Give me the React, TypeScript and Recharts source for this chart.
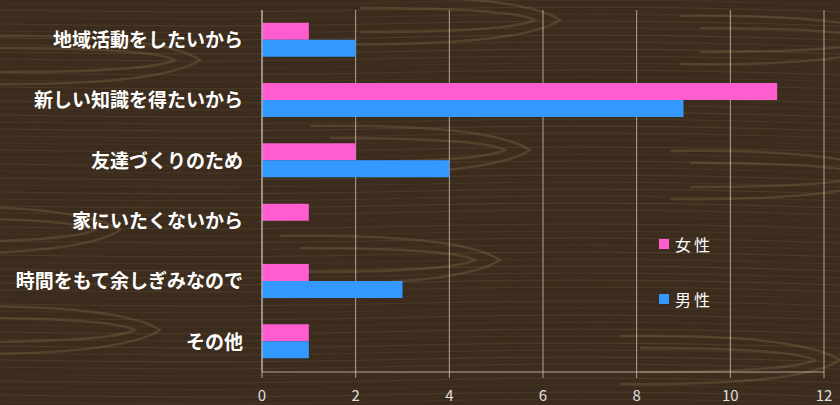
import React from 'react';
import { BarChart, Bar, XAxis, YAxis, CartesianGrid } from 'recharts';

const categories = [
  '地域活動をしたいから',
  '新しい知識を得たいから',
  '友達づくりのため',
  '家にいたくないから',
  '時間をもて余しぎみなので',
  'その他',
];
const femaleValues = [1, 11, 2, 1, 1, 1];
const maleValues = [2, 9, 4, 0, 3, 1];
const xTicks = [0, 2, 4, 6, 8, 10, 12];

const seriesNames = { female: '女性', male: '男性' };
const colors = { female: '#ff5ccf', male: '#3399ff' };

const data = categories.map((name, i) => ({
  name,
  female: femaleValues[i],
  male: maleValues[i],
}));

const FONT = '"Noto Sans CJK JP", "Noto Sans", sans-serif';
const gridColor = 'rgba(215,205,190,0.75)';

// wood-grain backdrop, purely decorative
const WoodBackground: React.FC = () => {
  const streaks = [];
  for (let y = 3; y < 405; y += 7) {
    const a = 0.08 + ((y * 37) % 11) / 100;
    streaks.push(
      <path
        key={y}
        d={`M0 ${y} Q210 ${y + 4} 420 ${y - 1} T840 ${y + 2}`}
        stroke={`rgba(170,140,100,${a})`}
        strokeWidth={1.2}
        fill="none"
      />
    );
  }
  const curls = [
    [0, 60], [-80, 230], [-40, 330], [360, 20], [330, 150], [300, 260], [700, 40], [690, 175], [640, 360],
  ];
  return (
    <svg width={840} height={405} style={{ position: 'absolute', left: 0, top: 0 }}>
      <rect width={840} height={405} fill="#3b2c1d" />
      {streaks}
      {curls.map(([cx, cy], i) => (
        <g key={i} fill="none" stroke="rgba(160,130,90,0.25)" strokeWidth={2.5}>
          <path d={`M${cx} ${cy - 12} Q${cx + 150} ${cy - 12} ${cx + 175} ${cy} Q${cx + 150} ${cy + 12} ${cx} ${cy + 12}`} />
          <path d={`M${cx - 20} ${cy - 24} Q${cx + 160} ${cy - 26} ${cx + 200} ${cy} Q${cx + 160} ${cy + 26} ${cx - 20} ${cy + 24}`} />
        </g>
      ))}
    </svg>
  );
};

const LegendBox: React.FC = () => (
  <div
    style={{
      position: 'absolute',
      left: 659,
      top: 233,
      fontFamily: FONT,
      fontSize: 16,
      color: '#ffffff',
      letterSpacing: 3,
    }}
  >
    {(['female', 'male'] as const).map((k, i) => (
      <div key={k} style={{ display: 'flex', alignItems: 'center', height: 22, marginTop: i === 0 ? 0 : 33 }}>
        <span style={{ width: 10, height: 10, background: colors[k], display: 'inline-block', marginRight: 6 }} />
        <span>{seriesNames[k]}</span>
      </div>
    ))}
  </div>
);

export default function App() {
  return (
    <div style={{ position: 'absolute', left: 0, top: 0, width: 840, height: 405, overflow: 'hidden' }}>
      <WoodBackground />
      <div style={{ position: 'absolute', left: 0, top: 0 }}>
        <BarChart
          width={840}
          height={405}
          data={data}
          layout="vertical"
          margin={{ top: 10, right: 16, left: 0, bottom: 0 }}
          barCategoryGap="21%"
          barGap={0}
        >
          <CartesianGrid horizontal={false} stroke={gridColor} />
          <XAxis
            type="number"
            domain={[0, 12]}
            ticks={xTicks}
            height={33}
            stroke={gridColor}
            tickSize={6}
            tickMargin={12}
            tick={{ fill: '#e0e0e0', fontSize: 15, fontFamily: FONT }}
          />
          <YAxis
            type="category"
            dataKey="name"
            width={262}
            stroke={gridColor}
            tickLine={false}
            tickSize={6}
            tickMargin={13}
            tick={{ fill: '#ffffff', fontSize: 19, fontWeight: 700, fontFamily: FONT }}
          />
          <Bar dataKey="female" name={seriesNames.female} fill={colors.female} isAnimationActive={false} />
          <Bar dataKey="male" name={seriesNames.male} fill={colors.male} isAnimationActive={false} />
        </BarChart>
      </div>
      <LegendBox />
    </div>
  );
}
